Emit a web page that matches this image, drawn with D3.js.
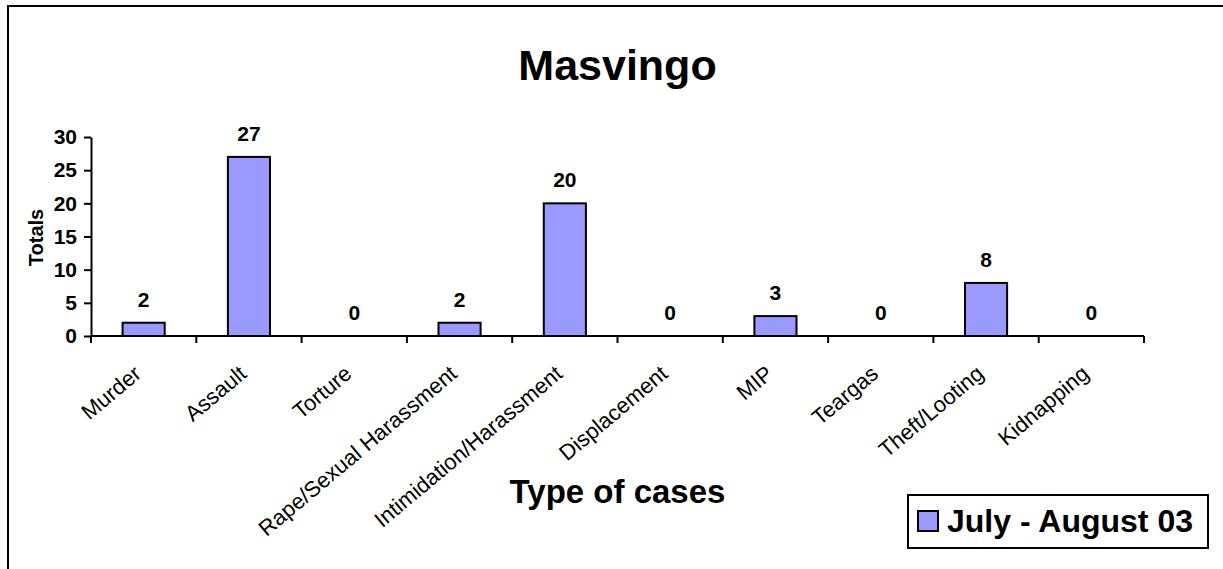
<!DOCTYPE html>
<html lang="en">
<head>
    <meta charset="UTF-8">
    <title>Masvingo</title>
    <style>
        body { margin: 0; background: #fff; }
        svg text { font-family: "Liberation Sans", Arial, sans-serif; fill: #000; }
    </style>
</head>
<body>
<svg id="chart" width="1223" height="569"></svg>
<script src="https://d3js.org/d3.v7.min.js"></script>
<script>
    const categories = ["Murder", "Assault", "Torture", "Rape/Sexual Harassment", "Intimidation/Harassment",
        "Displacement", "MIP", "Teargas", "Theft/Looting", "Kidnapping"];
    const totals = [2, 27, 0, 2, 20, 0, 3, 0, 8, 0];
    const yTicks = [0, 5, 10, 15, 20, 25, 30];
    const seriesName = "July - August 03";

    const plotLeft = 91, plotRight = 1144, plotTop = 137, plotBottom = 336;

    const svg = d3.select("#chart");

    // outer frame
    svg.append("rect")
        .attr("x", 8).attr("y", 6)
        .attr("width", 1240).attr("height", 600)
        .attr("fill", "none").attr("stroke", "#000").attr("stroke-width", 2);

    let x = d3.scaleBand().domain(categories).range([plotLeft, plotRight]).paddingInner(0.6).paddingOuter(0.3);
    let xTicks = d3.scaleBand().domain(categories).range([plotLeft, plotRight]);
    let y = d3.scaleLinear().domain([0, 30]).range([plotBottom, plotTop]);

    svg.append("text")
        .attr("x", (plotLeft + plotRight) / 2).attr("y", 80)
        .attr("text-anchor", "middle")
        .style("font-size", "43px").style("font-weight", "bold")
        .text("Masvingo");

    // y axis
    const yAxis = svg.append("g")
        .attr("transform", `translate(${plotLeft},0)`)
        .call(d3.axisLeft(y).tickValues(yTicks).tickSize(7).tickSizeOuter(0).tickPadding(7));
    yAxis.select(".domain").attr("stroke", "#000").attr("stroke-width", 2);
    yAxis.selectAll(".tick line").attr("stroke", "#000").attr("stroke-width", 2);
    yAxis.selectAll(".tick text")
        .style("font-size", "21px").style("font-weight", "bold")
        .style("font-family", "'Liberation Sans', Arial, sans-serif");

    svg.append("text")
        .attr("transform", `translate(43,${(plotTop + plotBottom) / 2 + 1}) rotate(-90)`)
        .attr("text-anchor", "middle")
        .style("font-size", "20px").style("font-weight", "bold")
        .text("Totals");

    // bars
    svg.selectAll("rect.bar")
        .data(categories)
        .join("rect")
        .attr("class", "bar")
        .attr("x", d => x(d))
        .attr("width", x.bandwidth())
        .attr("y", (d, i) => y(totals[i]))
        .attr("height", (d, i) => y(0) - y(totals[i]))
        .attr("fill", "#9999ff")
        .attr("stroke", "#000").attr("stroke-width", 2)
        .attr("display", (d, i) => totals[i] === 0 ? "none" : null);

    svg.selectAll("text.val")
        .data(categories)
        .join("text")
        .attr("class", "val")
        .attr("x", d => x(d) + x.bandwidth() / 2)
        .attr("y", (d, i) => y(totals[i]) - 16)
        .attr("text-anchor", "middle")
        .style("font-size", "21px").style("font-weight", "bold")
        .text((d, i) => totals[i]);

    // x axis: ticks at band edges
    const xg = svg.append("g");
    xg.append("line")
        .attr("x1", plotLeft).attr("x2", plotRight)
        .attr("y1", plotBottom).attr("y2", plotBottom)
        .attr("stroke", "#000").attr("stroke-width", 2);
    xg.selectAll("line.tk")
        .data(categories.concat(["end"]))
        .join("line")
        .attr("class", "tk")
        .attr("x1", (d, i) => i < categories.length ? xTicks(d) : plotRight)
        .attr("x2", (d, i) => i < categories.length ? xTicks(d) : plotRight)
        .attr("y1", plotBottom).attr("y2", plotBottom + 7)
        .attr("stroke", "#000").attr("stroke-width", 2);
    xg.selectAll("text.cat")
        .data(categories)
        .join("text")
        .attr("class", "cat")
        .attr("transform", d => `translate(${xTicks(d) + xTicks.bandwidth() / 2 - 1},${plotBottom + 40}) rotate(-40)`)
        .attr("text-anchor", "end")
        .style("font-size", "22px")
        .text(d => d);

    svg.append("text")
        .attr("x", (plotLeft + plotRight) / 2).attr("y", 503)
        .attr("text-anchor", "middle")
        .style("font-size", "33px").style("font-weight", "bold")
        .text("Type of cases");

    // legend
    const lg = svg.append("g");
    lg.append("rect")
        .attr("x", 908).attr("y", 495).attr("width", 300).attr("height", 53)
        .attr("fill", "#fff").attr("stroke", "#000").attr("stroke-width", 2);
    lg.append("rect")
        .attr("x", 918).attr("y", 511).attr("width", 20).attr("height", 20)
        .attr("fill", "#9999ff").attr("stroke", "#000").attr("stroke-width", 2);
    lg.append("text")
        .attr("x", 947).attr("y", 532)
        .style("font-size", "32px").style("font-weight", "bold")
        .text(seriesName);
</script>
</body>
</html>
